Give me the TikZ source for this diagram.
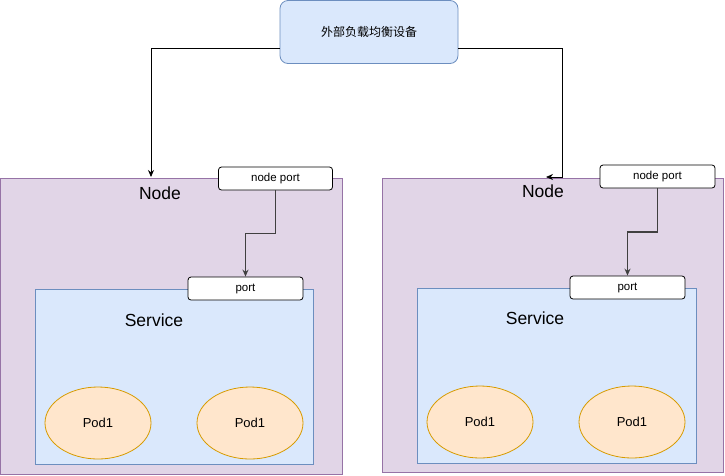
\documentclass[tikz,border=0pt]{standalone}
\usepackage{fontspec}
\setmainfont{Liberation Sans}
\newfontfamily\cjk{Noto Sans CJK SC}
\usetikzlibrary{arrows.meta,calc,positioning,shapes.geometric}

\definecolor{lbfill}{HTML}{DAE8FC}
\definecolor{lbdraw}{HTML}{6C8EBF}
\definecolor{nodefill}{HTML}{E1D5E7}
\definecolor{nodedraw}{HTML}{9673A6}
\definecolor{podfill}{HTML}{FFE6CC}
\definecolor{poddraw}{HTML}{D79B00}

\tikzset{
  hostbox/.style={draw=nodedraw, fill=nodefill, line width=0.8pt},
  svcbox/.style={draw=lbdraw, fill=lbfill, line width=0.8pt},
  portbox/.style={draw=black, fill=white, rounded corners=3pt, line width=0.8pt,
    minimum height=23pt, font=\fontsize{11.5}{13}\selectfont},
  pod/.style={ellipse, draw=poddraw, fill=podfill, line width=0.8pt,
    minimum width=106pt, minimum height=72pt, font=\fontsize{13}{15}\selectfont},
  biglabel/.style={font=\fontsize{17.5}{20}\selectfont},
  link/.style={-{Stealth[length=7pt,width=6pt]}, line width=0.8pt},
}

\begin{document}
\begin{tikzpicture}[x=1pt, y=-1pt]
            \useasboundingbox (0,0) rectangle (725,475);
            % load balancer
            \node[svcbox, rounded corners=8pt, minimum width=178pt, minimum height=63pt,
              font=\cjk\fontsize{12}{14}\selectfont] (lb) at (369,32) {外部负载均衡设备};
            % left node
            \node[hostbox, minimum width=342pt, minimum height=296pt] (node1) at (171,326) {};
            \node[biglabel] (nodelbl1) at (160,193) {Node};
            \node[svcbox, minimum width=278pt, minimum height=175pt] (svc1) at (174,377) {};
            \node[biglabel] (svclbl1) at (154,320) {Service};
            \node[portbox, minimum width=114pt] (np1) at (275.5,178.5) {node port};
            \node[portbox, minimum width=115pt] (p1) at (245.5,288.5) {port};
            \node[pod] (pod11) at (98,423) {Pod1};
            \node[pod] (pod12) at (250,423) {Pod1};
            % right node
            \node[hostbox, minimum width=341pt, minimum height=294pt] (node2) at (552.5,325) {};
            \node[biglabel] (nodelbl2) at (543,191) {Node};
            \node[svcbox, minimum width=279pt, minimum height=175pt] (svc2) at (556.5,375.5) {};
            \node[biglabel] (svclbl2) at (535,318) {Service};
            \node[portbox, minimum width=115pt] (np2) at (657.5,176.5) {node port};
            \node[portbox, minimum width=115pt] (p2) at (627.5,287.5) {port};
            \node[pod] (pod21) at (480,422) {Pod1};
            \node[pod] (pod22) at (632,422) {Pod1};
            % connectors
            \coordinate (in1) at (151,177);
            \coordinate (in2) at (546,177);
            \draw[link] ([yshift=-16pt]lb.west) -| (in1);
            \draw[link] ([yshift=-16pt]lb.east) -- ++(104,0) |- (in2);
            \draw[link, draw=black!75, line width=1.2pt] (np1.south) |- ($(np1.south)!0.5!(p1.north)$) -| (p1.north);
            \draw[link, draw=black!75, line width=1.2pt] (np2.south) |- ($(np2.south)!0.5!(p2.north)$) -| (p2.north);
          \end{tikzpicture}
\end{document}
